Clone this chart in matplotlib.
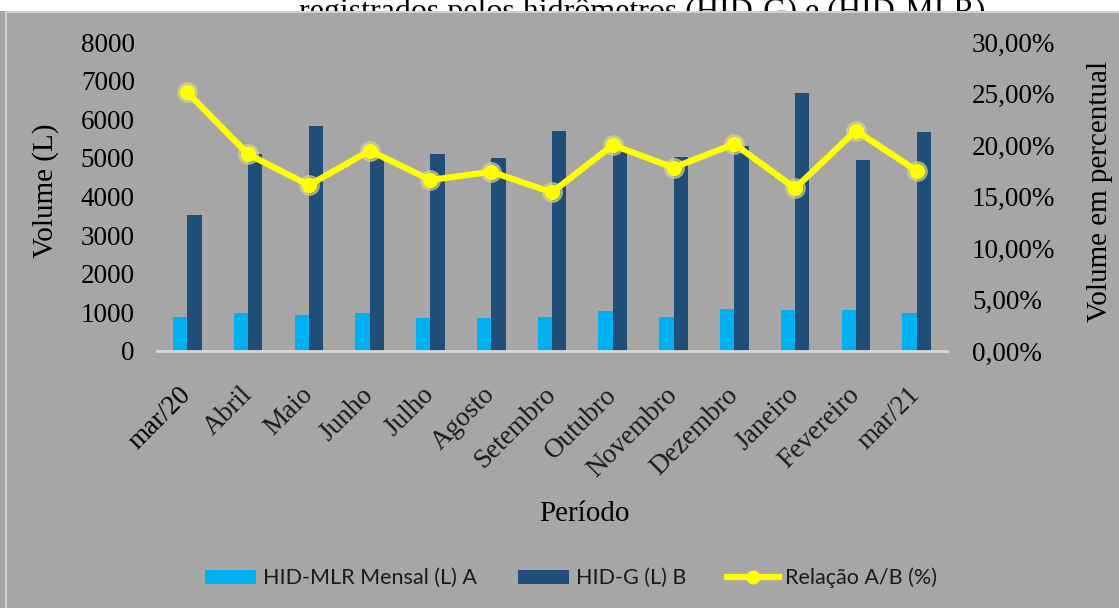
import matplotlib
matplotlib.use('Agg')
import matplotlib.pyplot as plt
from matplotlib.patches import Rectangle, Patch
from matplotlib.lines import Line2D
from matplotlib.ticker import FuncFormatter

# dados
meses = ['mar/20', 'Abril', 'Maio', 'Junho', 'Julho', 'Agosto', 'Setembro',
         'Outubro', 'Novembro', 'Dezembro', 'Janeiro', 'Fevereiro', 'mar/21']
hid_mlr = [890, 977, 932, 977, 863, 863, 890, 1028, 890, 1080, 1054, 1054, 992]
hid_g = [3520, 5100, 5829, 5050, 5111, 5000, 5700, 5200, 5026, 5311, 6692, 4948, 5666]
relacao = [25.1, 19.1, 16.1, 19.45, 16.6, 17.4, 15.4, 20.0, 17.8, 20.1, 15.8, 21.4, 17.5]

GRAY = '#A6A6A6'
C_MLR = '#00B0F0'
C_G = '#1F4E79'
C_LINE = '#FFFF00'
SERIF = 'Liberation Serif'

W, H = 1119, 608
fig = plt.figure(figsize=(W / 100, H / 100), dpi=100)
fig.patch.set_facecolor('white')

# título cortado pela área do gráfico
fig.text(642 / W, 1 - 20 / H, 'registrados pelos hidrômetros (HID-G) e (HID-MLR)',
         ha='center', va='baseline', fontsize=23, family=SERIF, color='black', zorder=0.5)
fig.add_artist(Rectangle((0, 0), 1, 1 - 11 / H, transform=fig.transFigure,
                         facecolor=GRAY, edgecolor='none', zorder=1))
fig.add_artist(Line2D([6 / W, 1], [1 - 11.5 / H, 1 - 11.5 / H], transform=fig.transFigure,
                      color='#D9D9D9', lw=1.2, zorder=1.1))
fig.add_artist(Line2D([6 / W, 6 / W], [0, 1 - 11.5 / H], transform=fig.transFigure,
                      color='#D9D9D9', lw=1.2, zorder=1.1))

left, right = 157 / W, 947 / W
bottom, top = 1 - 351 / H, 1 - 42 / H
ax = fig.add_axes([left, bottom, right - left, top - bottom])
ax.set_zorder(2)
ax.patch.set_visible(False)

x = list(range(len(meses)))
w = 0.235
ax.bar([i - w / 2 for i in x], hid_mlr, width=w, color=C_MLR, zorder=2)
ax.bar([i + w / 2 for i in x], hid_g, width=w, color=C_G, zorder=2)
ax.set_xlim(-0.5, len(meses) - 0.5)
ax.set_ylim(0, 8000)
ax.set_yticks(range(0, 8001, 1000))
for s in ['top', 'right', 'left']:
    ax.spines[s].set_visible(False)
ax.spines['bottom'].set_color('#D9D9D9')
ax.spines['bottom'].set_linewidth(2)
ax.tick_params(axis='both', length=0)
ax.tick_params(axis='y', pad=16, labelsize=19.5)
ax.set_xticks(x)
ax.set_xticklabels(meses, rotation=45, ha='right', va='center',
                   rotation_mode='anchor', fontsize=19.5, color='#1a1a1a')
ax.tick_params(axis='x', pad=29)
for lab in ax.get_xticklabels() + ax.get_yticklabels():
    lab.set_family(SERIF)
ax.get_xticklabels()[0].set_color('black')

ax.set_ylabel('Volume (L)', fontsize=21, family=SERIF, va='center')
ax.yaxis.set_label_coords(-0.1405, 0.518)
ax.set_xlabel('Período', fontsize=21, family=SERIF, va='center')
ax.xaxis.set_label_coords(0.5405, -0.527)

ax2 = ax.twinx()
ax2.set_zorder(3)
ax2.patch.set_visible(False)
rel = [r / 100 for r in relacao]
ax2.plot(x, rel, color='#D8D890', lw=0, marker='o', ms=14, alpha=0.6, zorder=3)
ax2.plot(x, rel, color=C_LINE, lw=4.5, marker='o', ms=10, mfc=C_LINE, mec=C_LINE, zorder=4)
ax2.set_ylim(0, 0.30)
ax2.set_yticks([0, 0.05, 0.10, 0.15, 0.20, 0.25, 0.30])
ax2.yaxis.set_major_formatter(FuncFormatter(lambda v, p: ('%.2f%%' % (v * 100)).replace('.', ',')))
for s in ax2.spines.values():
    s.set_visible(False)
ax2.tick_params(axis='y', length=0, pad=18, labelsize=19.5)
for lab in ax2.get_yticklabels():
    lab.set_family(SERIF)
ax2.set_ylabel('Volume em percentual', fontsize=21, family=SERIF, rotation=90, va='center')
ax2.yaxis.set_label_coords(1.1937, 0.515)

handles = [
    Patch(facecolor=C_MLR, edgecolor='none'),
    Patch(facecolor=C_G, edgecolor='none'),
    Line2D([0], [0], color=C_LINE, lw=4.5, marker='o', ms=9, mfc=C_LINE, mec=C_LINE),
]
labels = ['HID-MLR Mensal (L) A', 'HID-G (L) B', 'Relação A/B (%)']
leg = fig.legend(handles, labels, loc='center', bbox_to_anchor=(571 / W, 1 - 578 / H),
                 ncol=3, frameon=False, prop={'family': 'Lato', 'size': 15.5},
                 handlelength=2.4, handleheight=0.65, handletextpad=0.3,
                 columnspacing=1.9, borderpad=0)
for t in leg.get_texts():
    t.set_color('#1a1a1a')

fig.savefig('out.png', dpi=100, facecolor=fig.get_facecolor())
